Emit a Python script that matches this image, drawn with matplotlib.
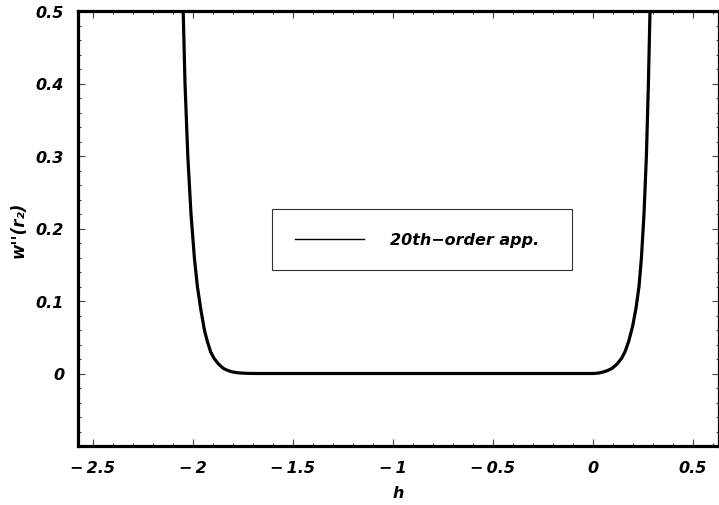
import matplotlib
matplotlib.use('Agg')
import matplotlib.pyplot as plt
from matplotlib.lines import Line2D
from matplotlib.ticker import MultipleLocator

# 20th-order approximation of w''(r2) versus h
h = [-2.049, -2.040, -2.026, -2.010, -1.993, -1.978, -1.962, -1.943, -1.928,
     -1.912, -1.895, -1.872, -1.848, -1.825, -1.800, -1.770, -1.730, -1.680,
     -1.500, -1.000, -0.500, -0.200, 0.000, 0.025, 0.050, 0.072, 0.095,
     0.120, 0.143, 0.160, 0.178, 0.198, 0.215, 0.230, 0.242, 0.255, 0.267,
     0.277, 0.285]
w = [0.5, 0.4, 0.3, 0.22, 0.159, 0.12, 0.09, 0.06, 0.044,
     0.03, 0.021, 0.013, 0.007, 0.004, 0.002, 0.0008, 0.0002, 0.0,
     0.0, 0.0, 0.0, 0.0, 0.0, 0.0005, 0.002, 0.004, 0.007,
     0.013, 0.021, 0.03, 0.044, 0.065, 0.09, 0.12, 0.159, 0.22, 0.3,
     0.4, 0.5]

x_ticks = [-2.5, -2, -1.5, -1, -0.5, 0, 0.5]
y_ticks = [0, 0.1, 0.2, 0.3, 0.4, 0.5]

plt.rcParams['font.family'] = 'DejaVu Sans'
plt.rcParams['font.weight'] = 'bold'
plt.rcParams['font.style'] = 'oblique'
plt.rcParams['axes.labelweight'] = 'bold'

fig = plt.figure(figsize=(7.19, 5.06), dpi=100)
ax = fig.add_axes([78 / 719, 59 / 506, 641 / 719, 435 / 506])

ax.plot(h, w, color='black', lw=2.3)

ax.set_xlim(-2.575, 0.63)
ax.set_ylim(-0.1, 0.5)
ax.set_xticks(x_ticks)
ax.set_xticklabels([f'{t:g}'.replace('-', '\u2212\u2009') for t in x_ticks])
ax.set_yticks(y_ticks)
ax.set_yticklabels([f'{t:g}' for t in y_ticks])
ax.xaxis.set_minor_locator(MultipleLocator(0.1))
ax.yaxis.set_minor_locator(MultipleLocator(0.02))

ax.tick_params(which='both', direction='in', top=True, right=True, width=0.8,
               color='#444444')
ax.tick_params(which='major', length=5, labelsize=11.5)
ax.tick_params(which='minor', length=2.5)
ax.tick_params(axis='x', pad=10)
ax.tick_params(axis='y', pad=10)
for s in ax.spines.values():
    s.set_linewidth(2.3)

ax.set_xlabel('h', fontsize=11.5, labelpad=7)
ax.set_ylabel("w''(r\u2082)", fontsize=12, labelpad=6)

handle = Line2D([], [], color='black', lw=1)
leg = ax.legend([handle], ['20th\u2212order app.'], loc='center',
                bbox_to_anchor=(0.303, 0.402, 0.467, 0.145), mode='expand',
                borderaxespad=0, fancybox=False, framealpha=1,
                edgecolor='#333333', handlelength=4.3, handletextpad=1.6,
                borderpad=1.45, fontsize=11.5)
leg.get_frame().set_linewidth(0.8)

fig.savefig('out.png', dpi=100)
